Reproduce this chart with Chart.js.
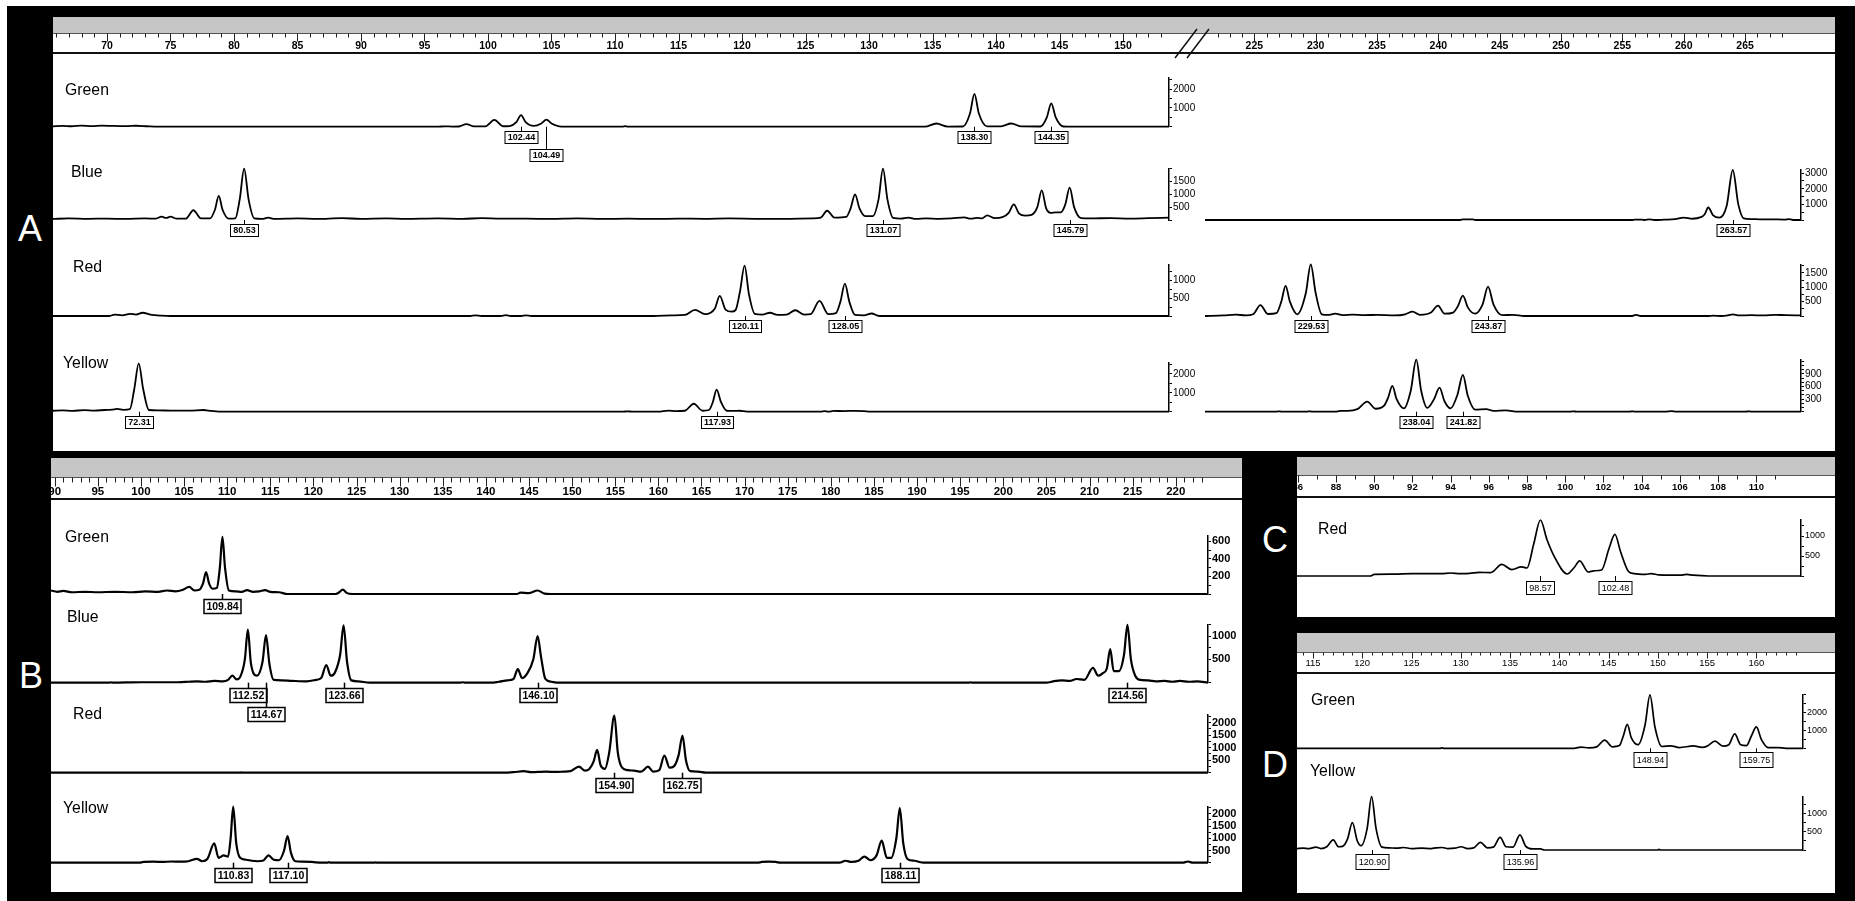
<!DOCTYPE html>
<html>
<head>
<meta charset="utf-8">
<title>Electropherograms A-D</title>
<script src="https://cdn.jsdelivr.net/npm/chart.js@4.4.1/dist/chart.umd.min.js"></script>
<style>
  html, body { margin: 0; padding: 0; background: #fff; }
  #fig { position: relative; width: 1855px; height: 901px; overflow: hidden; background: #fff; font-family: "Liberation Sans", Arial, sans-serif; }
  #fig div { position: absolute; }
  .black { left: 7px; top: 6px; right: 0; bottom: 0; background: #000; }
  .panel { background: #fff; }
  .grey { background: #c6c6c6; }
  .ruler { background: #fff; border-top: 1px solid #555; border-bottom: 2px solid #111; box-sizing: border-box; }
  .letter { color: #fff; font-size: 36px; line-height: 36px; transform: translate(-50%, -50%); }
</style>
</head>
<body>
<div id="fig">
  <div class="black"></div>

  <div class="panel" style="left:53px;top:17px;width:1782px;height:434px"></div>
  <div class="grey" style="left:53px;top:17px;width:1782px;height:16px"></div>
  <div class="ruler" style="left:53px;top:33px;width:1782px;height:21px"></div>

  <div class="panel" style="left:51px;top:458px;width:1191px;height:434px"></div>
  <div class="grey" style="left:51px;top:458px;width:1191px;height:19px"></div>
  <div class="ruler" style="left:51px;top:477px;width:1191px;height:23px"></div>

  <div class="panel" style="left:1297px;top:457px;width:538px;height:160px"></div>
  <div class="grey" style="left:1297px;top:457px;width:538px;height:18px"></div>
  <div class="ruler" style="left:1297px;top:475px;width:538px;height:23px"></div>

  <div class="panel" style="left:1297px;top:633px;width:538px;height:260px"></div>
  <div class="grey" style="left:1297px;top:633px;width:538px;height:19px"></div>
  <div class="ruler" style="left:1297px;top:652px;width:538px;height:22px"></div>

  <div class="letter" style="left:30px;top:229px">A</div>
  <div class="letter" style="left:31px;top:676px">B</div>
  <div class="letter" style="left:1275px;top:540px">C</div>
  <div class="letter" style="left:1275px;top:765px">D</div>
</div>

<script>

// ruler labels
const aRulerLeft = [70, 75, 80, 85, 90, 95, 100, 105, 110, 115, 120, 125, 130, 135, 140, 145, 150];
const aRulerRight = [225, 230, 235, 240, 245, 250, 255, 260, 265];
const bRuler = [90, 95, 100, 105, 110, 115, 120, 125, 130, 135, 140, 145, 150, 155, 160, 165, 170, 175, 180, 185, 190, 195, 200, 205, 210, 215, 220];
const cRuler = [86, 88, 90, 92, 94, 96, 98, 100, 102, 104, 106, 108, 110];
const dRuler = [115, 120, 125, 130, 135, 140, 145, 150, 155, 160];

// panel A, left part
const aGreenL = [[65.75,20],[66.5,45],[67.2,25],[68,55],[68.8,35],[69.6,60],[70.5,40],[71.5,30],[72.3,50],[73.1,25],[74,0],
  [96,0],[96.6,20],[97.2,5],[97.7,10],[98.3,140],[98.9,15],[99.8,20],[100.5,360],[101.2,25],[101.7,35],[102.25,260],[102.6,620],
  [102.95,260],[103.6,40],[104.2,170],[104.6,380],[105.0,170],[105.6,20],[106.5,0],[110.6,0],[110.8,30],[111,0],
  [134.4,0],[135.3,170],[136.2,5],[137.4,10],[137.95,700],[138.3,1750],[138.65,700],[139.3,15],[140.4,20],[141.2,170],[142,15],
  [143.5,10],[144.0,500],[144.35,1250],[144.7,500],[145.3,10],[146,0],[153.62,0]];
const aGreenLPeaks = [[102.6,'102.44',0],[104.6,'104.49',1],[138.3,'138.30',0],[144.35,'144.35',0]];
const aGreenLTicks = [1000, 2000];

const aBlueL = [[65.75,40],[67,60],[68.5,45],[70,55],[71.5,40],[73,60],[73.8,50],[74.3,130],[74.65,80],[75.0,130],[75.5,50],
  [76.2,50],[76.8,380],[77.4,60],[78.1,60],[78.5,400],[78.8,940],[79.1,400],[79.6,50],[80.1,60],[80.45,800],[80.8,2000],
  [81.15,800],[81.6,60],[82.2,40],[82.7,90],[83.2,40],[85,60],[86.5,40],[88.5,70],[90,45],[92,60],[93.5,40],[96,60],[98,45],
  [99.5,70],[101,50],[103,55],[105,40],[107,60],[109,45],[111,50],[113,40],[115,55],[117,45],[119,60],[121,45],[123,40],
  [124.5,55],[125.6,60],[126.2,90],[126.7,360],[127.3,90],[128.2,120],[128.55,450],[128.9,1000],[129.25,450],[129.7,150],
  [130.3,150],[130.75,800],[131.1,2000],[131.45,800],[131.9,80],[132.5,50],[133.1,90],[133.7,40],[134.5,60],[135.5,45],
  [136.5,60],[137.5,100],[138,50],[138.5,80],[138.9,60],[139.3,180],[139.9,70],[140.5,110],[141.0,280],[141.4,610],[141.8,260],
  [142.3,170],[142.8,200],[143.25,500],[143.6,1150],[143.95,450],[144.3,280],[144.7,300],[145.1,300],[145.45,600],[145.8,1260],
  [146.15,500],[146.7,70],[147.5,60],[149,75],[150.5,55],[152,70],[153.62,90]];
const aBlueLPeaks = [[80.8,'80.53',0],[131.1,'131.07',0],[145.8,'145.79',0]];
const aBlueLTicks = [500, 1000, 1500];

const aRedL = [[65.75,0],[70.2,0],[70.6,40],[71.2,20],[71.8,60],[72.3,40],[72.8,90],[73.4,40],[74.3,10],[75,0],[98.6,0],[99,20],
  [99.5,0],[101,0],[101.4,25],[101.8,0],[102.6,0],[103,20],[103.4,0],[113,0],[114.5,15],[115.5,30],[116.3,170],[117.1,50],
  [117.85,200],[118.25,560],[118.7,180],[119.2,120],[119.5,170],[119.85,700],[120.2,1400],[120.55,600],[121.0,60],[121.6,40],
  [122.2,90],[122.8,30],[123.5,40],[124.2,160],[124.9,40],[125.4,50],[126.1,420],[126.8,50],[127.4,80],[127.75,400],[128.1,900],
  [128.45,400],[128.9,30],[129.6,20],[130.2,70],[130.8,0],[153.62,0]];
const aRedLPeaks = [[120.2,'120.11',0],[128.1,'128.05',0]];
const aRedLTicks = [500, 1000];

const aYellowL = [[65.75,50],[66.5,70],[67.3,45],[68.2,80],[69,60],[69.8,90],[70.4,110],[70.8,150],[71.3,100],[71.8,130],
  [72.15,1200],[72.5,2550],[72.85,1200],[73.3,90],[74,70],[75,60],[76.5,55],[77.6,90],[78.2,40],[78.8,0],[110.6,0],[111,20],
  [111.4,0],[113.4,0],[114.2,60],[114.8,30],[115.5,50],[116.2,420],[116.9,50],[117.4,90],[117.7,500],[118.0,1170],[118.35,500],
  [118.8,50],[119.3,40],[119.8,50],[120.4,0],[126.2,0],[126.5,30],[126.8,0],[127.2,40],[128,35],[128.8,45],[129.6,30],
  [130.1,0],[153.62,0]];
const aYellowLPeaks = [[72.5,'72.31',0],[118.0,'117.93',0]];
const aYellowLTicks = [1000, 2000];

// panel A, right part
const aBlueR = [[220.98,0],[241.8,0],[242,40],[242.8,40],[243,0],[255.8,0],[256,30],[256.6,30],[256.8,0],[257.2,40],[257.6,0],
  [258.4,20],[259.3,50],[260.0,150],[260.7,80],[261.4,180],[261.7,350],[262.0,800],[262.4,300],[262.9,150],[263.5,900],
  [264.0,3200],[264.45,1000],[264.9,100],[265.5,60],[266.2,40],[267,40],[268.2,30],[268.6,60],[269,0],[269.56,0]];
const aBlueRPeaks = [[264.0,'263.57',0]];
const aBlueRTicks = [1000, 2000, 3000];

const aRedR = [[220.98,0],[222.5,20],[223.5,50],[224.3,20],[224.9,60],[225.5,380],[226.1,70],[226.8,100],[227.2,500],
  [227.55,1050],[227.9,500],[228.5,60],[229.2,800],[229.6,1800],[230.0,800],[230.5,60],[231.0,40],[231.6,80],[232.2,30],
  [233,50],[234,30],[235,40],[236.4,20],[237.3,60],[237.9,150],[238.5,40],[239.4,120],[239.97,360],[240.5,80],[241.2,120],
  [241.6,350],[242.0,710],[242.4,300],[243.0,80],[243.6,400],[244.05,1020],[244.5,400],[245.2,30],[246.1,40],[247,0],
  [255.8,0],[256.1,40],[256.5,0],[262,0],[262.4,10],[263,0],[263.6,20],[264,60],[264.5,20],[265.5,30],[266.5,20],[267.5,40],
  [268.3,30],[269.56,20]];
const aRedRPeaks = [[229.6,'229.53',0],[244.05,'243.87',0]];
const aRedRTicks = [500, 1000, 1500];

const aYellowR = [[220.98,0],[226.8,0],[227,10],[227.2,0],[229.3,0],[229.5,10],[229.7,0],[231.6,0],[232.0,20],[232.6,20],
  [233.4,60],[234.2,240],[234.9,70],[235.6,150],[235.9,330],[236.25,615],[236.6,300],[237.2,80],[237.75,500],[238.2,1240],
  [238.6,500],[239.1,90],[239.65,300],[240.1,575],[240.5,250],[241.0,80],[241.55,400],[242.0,880],[242.4,380],[243.0,50],
  [243.9,60],[244.5,20],[245.5,30],[246.5,0],[250.8,0],[251,10],[251.3,0],[255.5,0],[255.8,10],[256,0],[258.5,0],[259,15],
  [259.4,0],[265,0],[265.3,10],[265.5,0],[269.56,0]];
const aYellowRPeaks = [[238.2,'238.04',0],[242.0,'241.82',0]];
const aYellowRTicks = [300, 600, 900];

// panel B
const bGreen = [[89.57,40],[90.3,25],[91,35],[92,20],[93.5,25],[95,20],[97,25],[99,20],[100.5,30],[102,25],[103,40],[104,30],
  [104.8,45],[105.6,80],[106.2,40],[106.8,50],[107.2,120],[107.55,250],[107.9,120],[108.3,60],[108.8,70],[109.15,300],
  [109.45,650],[109.75,300],[110.2,40],[111,30],[111.7,25],[112.3,45],[113,25],[113.7,30],[114.4,45],[115,25],[116,20],
  [117,0],[122.6,0],[123,20],[123.4,50],[123.9,10],[124.5,0],[143.6,0],[144,15],[145,10],[146,40],[146.8,5],[147.5,0],
  [223.74,0]];
const bGreenPeaks = [[109.45,'109.84',0]];
const bGreenTicks = [200, 400, 600];

const bBlue = [[89.57,0],[96.3,0],[96.5,10],[96.7,0],[100,10],[104.3,10],[105.5,20],[106.5,30],[107.5,20],[108.5,40],
  [109.5,30],[110.1,60],[110.6,150],[111.1,70],[111.5,120],[112.05,500],[112.4,1140],[112.75,420],[113.45,150],[114.1,450],
  [114.5,1020],[114.9,400],[115.4,60],[116.3,50],[117.5,40],[119.2,30],[120.3,60],[120.9,100],[121.5,380],[122.0,150],
  [122.5,220],[123.1,600],[123.5,1230],[123.9,450],[124.4,50],[125.2,30],[126.5,0],[137,0],[137.3,10],[137.6,0],[140.6,0],
  [141.5,20],[142.5,50],[143.2,80],[143.7,290],[144.2,100],[144.8,200],[145.5,500],[146.0,1000],[146.4,550],[146.9,80],
  [147.6,20],[148.5,0],[196,0],[196.2,10],[196.4,0],[205,0],[205.8,30],[206.8,50],[207.7,40],[208.5,80],[209.4,60],
  [210.4,320],[211.0,150],[211.5,200],[212.0,300],[212.4,720],[212.8,250],[213.4,250],[214.0,600],[214.4,1240],[214.8,500],
  [215.3,150],[215.9,60],[216.8,50],[217.7,30],[218.7,40],[219.6,20],[220.5,40],[221.5,20],[222.5,30],[223.74,0]];
const bBluePeaks = [[112.4,'112.52',0],[114.5,'114.67',1],[123.5,'123.66',0],[146.0,'146.10',0],[214.4,'214.56',0]];
const bBlueTicks = [500, 1000];

const bRed = [[89.57,0],[111.5,0],[111.6,15],[111.7,0],[142,0],[143.2,20],[144.4,60],[145.2,20],[146,30],[147,40],[148,30],
  [149,40],[149.8,60],[150.8,240],[151.5,80],[152.0,150],[152.5,450],[152.9,910],[153.3,300],[153.8,150],[154.3,800],
  [154.9,2280],[155.3,800],[155.8,200],[156.5,100],[157.2,80],[158.0,40],[158.8,240],[159.4,40],[160.1,100],[160.7,680],
  [161.3,200],[161.8,250],[162.35,700],[162.8,1480],[163.2,500],[163.7,60],[164.6,40],[165.5,0],[223.74,0]];
const bRedPeaks = [[154.9,'154.90',0],[162.8,'162.75',0]];
const bRedTicks = [500, 1000, 1500, 2000];

const bYellow = [[89.57,0],[99.8,0],[100.3,30],[101.5,40],[102.5,30],[103.5,50],[104.5,40],[105.5,60],[106.5,160],[107.1,60],
  [107.7,150],[108.5,790],[109.0,200],[109.6,300],[110.1,250],[110.4,1000],[110.7,2300],[111.05,800],[111.5,200],[112.2,120],
  [112.85,80],[113.5,60],[114.2,90],[114.8,300],[115.4,120],[116.0,100],[116.6,500],[117.0,1090],[117.4,400],[117.9,60],
  [118.7,40],[119.8,30],[121,0],[121.6,0],[121.8,20],[122,0],[127,0],[127.2,10],[127.4,0],[171.5,0],[172,30],[172.8,40],
  [173.6,30],[174.2,0],[181.0,0],[181.7,80],[182.4,30],[183.2,80],[183.9,250],[184.6,100],[185.3,300],[185.9,900],[186.5,200],
  [187.0,200],[187.6,1000],[188.0,2230],[188.4,800],[188.9,150],[189.7,80],[190.4,20],[191,0],[220.8,0],[221.4,50],[222,0],
  [223.74,0]];
const bYellowPeaks = [[110.7,'110.83',0],[117.0,'117.10',0],[188.0,'188.11',0]];
const bYellowTicks = [500, 1000, 1500, 2000];

// panel C
const cRed = [[85.96,0],[89.8,0],[90.0,40],[91,45],[92,60],[93.5,60],[94.0,75],[94.5,60],[95.0,65],[95.5,90],[96.1,85],
  [96.68,290],[97.2,160],[97.7,230],[98.0,200],[98.35,800],[98.7,1400],[99.05,900],[99.5,420],[100.1,50],[100.45,200],
  [100.76,380],[101.2,100],[101.5,130],[101.9,150],[102.3,700],[102.6,1040],[102.9,600],[103.3,120],[103.6,60],[104.2,40],
  [104.5,60],[104.9,30],[106,20],[106.35,40],[106.7,20],[107.5,0],[112.34,0]];
const cRedPeaks = [[98.7,'98.57',0],[102.6,'102.48',0]];
const cRedTicks = [500, 1000];

// panel D
const dGreen = [[113.38,0],[127.9,0],[128.1,20],[128.3,0],[141.5,0],[142.2,70],[143,20],[143.8,80],[144.6,460],[145.4,80],
  [146.1,150],[146.5,700],[146.9,1330],[147.3,600],[148.0,200],[148.7,1300],[149.2,2980],[149.7,1200],[150.4,100],[151.3,140],
  [152.2,40],[153.6,130],[154.5,50],[155.0,120],[155.8,400],[156.6,120],[157.2,200],[157.8,800],[158.4,200],[159.0,150],
  [159.5,700],[160.0,1190],[160.5,500],[161.2,40],[162.2,40],[163,0],[164.73,0]];
const dGreenPeaks = [[149.2,'148.94',0],[160.0,'159.75',0]];
const dGreenTicks = [1000, 2000];

const dYellow = [[113.38,40],[114,50],[114.6,40],[115.3,80],[115.8,40],[116.4,90],[117.06,280],[117.6,90],[118.0,100],
  [118.5,300],[119.0,760],[119.5,250],[119.9,120],[120.5,600],[120.95,1480],[121.4,600],[122.0,80],[122.7,60],[123.5,50],
  [124.2,70],[125,40],[126,50],[127,40],[127.5,60],[128.1,70],[128.7,40],[129.4,50],[130.06,90],[130.7,40],[131.3,60],
  [132.0,210],[132.7,60],[133.3,80],[134.0,350],[134.6,90],[135.3,80],[136.0,420],[136.6,100],[137.3,30],[138.1,30],
  [138.5,0],[150,0],[150.1,20],[150.3,0],[164.73,0]];
const dYellowPeaks = [[120.95,'120.90',0],[136.0,'135.96',0]];
const dYellowTicks = [500, 1000];

// ---------- drawing ----------
const FONT = '"Liberation Sans", Arial, Helvetica, sans-serif';
Chart.defaults.font.family = FONT;
Chart.defaults.color = '#000';

const fig = document.getElementById('fig');
const AXIS_W = 46;

const styleA = { lw: 1.8, boxFont: 'bold 9px', boxH: 12, box1: 4, box2: 22, boxLw: 1, yFont: { size: 10 } };
const styleB = { lw: 2.2, boxFont: 'bold 10.5px', boxH: 14, box1: 5, box2: 24, boxLw: 1.5, yFont: { size: 11, weight: 'bold' } };
const styleC = { lw: 1.7, boxFont: '9px', boxH: 13, box1: 4.5, box2: 22, boxLw: 1, yFont: { size: 9 } };
const styleD = { lw: 1.7, boxFont: '9px', boxH: 15, box1: 3.5, box2: 22, boxLw: 1, yFont: { size: 9 } };

const segments = [
  { left: 53, right: 1169, xMin: 65.75, xMax: 153.62, st: styleA, labels: aRulerLeft,
    ruler: { y: 33.5, from: 66, to: 153, majorLen: 8, minorLen: 4, labelY: 46.5, font: 'bold 10.5px', breakMark: true },
    rows: [
      { name: 'Green', nameAt: [65, 90], top: 78, base: 126.7, points: aGreenL, peaks: aGreenLPeaks, yMax: 2600, yStep: 500, yLabels: aGreenLTicks },
      { name: 'Blue', nameAt: [71, 172], top: 168.6, base: 220, points: aBlueL, peaks: aBlueLPeaks, yMax: 2000, yStep: 500, yLabels: aBlueLTicks },
      { name: 'Red', nameAt: [73, 267], top: 265, base: 316, points: aRedL, peaks: aRedLPeaks, yMax: 1420, yStep: 250, yLabels: aRedLTicks },
      { name: 'Yellow', nameAt: [63, 363], top: 362.5, base: 411.7, points: aYellowL, peaks: aYellowLPeaks, yMax: 2600, yStep: 500, yLabels: aYellowLTicks }
    ] },
  { left: 1205, right: 1801, xMin: 220.98, xMax: 269.56, st: styleA, labels: aRulerRight,
    ruler: { y: 33.5, from: 222, to: 268, majorLen: 8, minorLen: 4, labelY: 46.5, font: 'bold 10.5px' },
    rows: [
      { top: 170, base: 220, points: aBlueR, peaks: aBlueRPeaks, yMax: 3200, yStep: 500, yLabels: aBlueRTicks },
      { top: 264.3, base: 316, points: aRedR, peaks: aRedRPeaks, yMax: 1800, yStep: 250, yLabels: aRedRTicks },
      { top: 359.3, base: 411.7, points: aYellowR, peaks: aYellowRPeaks, yMax: 1250, yStep: 100, yLabels: aYellowRTicks }
    ] },
  { left: 51, right: 1207.5, xMin: 89.57, xMax: 223.74, st: styleB, labels: bRuler,
    ruler: { y: 477.5, from: 90, to: 223, majorLen: 9, minorLen: 5, labelY: 492, font: 'bold 11.5px' },
    rows: [
      { name: 'Green', nameAt: [65, 537], top: 536, base: 594, points: bGreen, peaks: bGreenPeaks, yMax: 660, yStep: 100, yLabels: bGreenTicks },
      { name: 'Blue', nameAt: [67, 617], top: 624.5, base: 682.7, points: bBlue, peaks: bBluePeaks, yMax: 1250, yStep: 250, yLabels: bBlueTicks },
      { name: 'Red', nameAt: [73, 714], top: 715, base: 772.7, points: bRed, peaks: bRedPeaks, yMax: 2300, yStep: 250, yLabels: bRedTicks },
      { name: 'Yellow', nameAt: [63, 808], top: 806.5, base: 862.7, points: bYellow, peaks: bYellowPeaks, yMax: 2300, yStep: 250, yLabels: bYellowTicks }
    ] },
  { left: 1297, right: 1801.4, xMin: 85.96, xMax: 112.34, st: styleC, labels: cRuler,
    ruler: { y: 475.5, from: 86, to: 111, majorLen: 7, minorLen: 4, labelY: 487, font: 'bold 9.5px' },
    rows: [
      { name: 'Red', nameAt: [1318, 529], top: 520, base: 576, points: cRed, peaks: cRedPeaks, yMax: 1400, yStep: 250, yLabels: cRedTicks }
    ] },
  { left: 1297, right: 1803.3, xMin: 113.38, xMax: 164.73, st: styleD, labels: dRuler,
    ruler: { y: 652.5, from: 114, to: 164, majorLen: 6, minorLen: 3, labelY: 663.5, font: '9.5px' },
    rows: [
      { name: 'Green', nameAt: [1311, 700], top: 694.5, base: 748.3, points: dGreen, peaks: dGreenPeaks, yMax: 3000, yStep: 500, yLabels: dGreenTicks },
      { name: 'Yellow', nameAt: [1310, 771.5], top: 796.7, base: 850, points: dYellow, peaks: dYellowPeaks, yMax: 1480, yStep: 250, yLabels: dYellowTicks }
    ] }
];

const addCanvas = (left, top, width, height) => {
  const c = document.createElement('canvas');
  c.width = width;
  c.height = height;
  Object.assign(c.style, { position: 'absolute', left: left + 'px', top: top + 'px', width: width + 'px', height: height + 'px' });
  fig.appendChild(c);
  return c;
};

const drawMarks = (chart, row, st, cLeft, cTop) => {
  const { ctx, scales: { x, y } } = chart;
  const base = y.getPixelForValue(0);
  ctx.save();
  if (row.name) {
    ctx.font = '17px ' + FONT;
    ctx.fillStyle = '#000';
    ctx.textBaseline = 'middle';
    ctx.translate(row.nameAt[0] - cLeft, row.nameAt[1] - cTop);
    ctx.scale(0.93, 1);
    ctx.fillText(row.name, 0, 0);
    ctx.setTransform(1, 0, 0, 1, 0, 0);
  }
  ctx.font = st.boxFont + ' ' + FONT;
  ctx.textAlign = 'center';
  ctx.textBaseline = 'middle';
  ctx.strokeStyle = '#000';
  ctx.lineWidth = st.boxLw;
  row.peaks.forEach(([v, text, level]) => {
    const px = Math.round(x.getPixelForValue(v)) + 0.5;
    const top = Math.round(base + (level ? st.box2 : st.box1)) + 0.5;
    const w = Math.round(ctx.measureText(text).width + 5);
    ctx.beginPath();
    ctx.moveTo(px, base);
    ctx.lineTo(px, top);
    ctx.stroke();
    ctx.fillStyle = '#fff';
    ctx.fillRect(px - w / 2, top, w, st.boxH);
    ctx.strokeRect(px - w / 2, top, w, st.boxH);
    ctx.fillStyle = '#000';
    ctx.fillText(text, px, top + st.boxH / 2 + 0.5);
  });
  ctx.restore();
};

const traceChart = (seg, row) => {
  const st = seg.st;
  const cLeft = Math.round(seg.left);
  const cTop = Math.round(Math.min(row.top, row.nameAt ? row.nameAt[1] : row.top) - 16);
  const cBottom = Math.round(row.base + 44);
  const width = Math.round(seg.right - cLeft) + AXIS_W;
  const canvas = addCanvas(cLeft, cTop, width, cBottom - cTop);
  new Chart(canvas, {
    type: 'line',
    data: {
      datasets: [{
        data: row.points.map(([x, y]) => ({ x, y })),
        borderColor: '#000',
        borderWidth: st.lw,
        pointRadius: 0,
        cubicInterpolationMode: 'monotone',
        borderJoinStyle: 'round',
        fill: false,
        clip: false
      }]
    },
    options: {
      responsive: false,
      animation: false,
      devicePixelRatio: 1,
      events: [],
      layout: { padding: { left: 0, right: 0, top: row.top - cTop, bottom: cBottom - row.base } },
      plugins: { legend: { display: false }, tooltip: { enabled: false } },
      scales: {
        x: { type: 'linear', min: seg.xMin, max: seg.xMax, display: false },
        y: {
          type: 'linear',
          position: 'right',
          min: 0,
          max: row.yMax,
          afterFit: s => { s.width = AXIS_W; },
          // one tick every yStep from the baseline up to the top of the axis
          afterBuildTicks: s => {
            const t = [];
            for (let v = 0; v <= row.yMax; v += row.yStep) t.push({ value: v });
            s.ticks = t;
          },
          border: { display: true, color: '#000', width: 1.5 },
          grid: { drawOnChartArea: false, drawTicks: true, tickLength: 3, color: '#000', lineWidth: 1 },
          ticks: {
            autoSkip: false,
            padding: 1,
            color: '#000',
            font: st.yFont,
            callback: v => row.yLabels.includes(v) ? String(v) : ''
          }
        }
      }
    },
    plugins: [{ id: 'marks', afterDatasetsDraw: chart => drawMarks(chart, row, st, cLeft, cTop) }]
  });
};

const drawRuler = (chart, r, labels, cTop) => {
  const { ctx, scales: { x } } = chart;
  const y0 = r.y - cTop;
  ctx.save();
  ctx.strokeStyle = '#222';
  ctx.lineWidth = 1;
  for (let v = r.from; v <= r.to; v++) {
    const px = Math.round(x.getPixelForValue(v)) + 0.5;
    const len = labels.includes(v) ? r.majorLen : r.minorLen;
    ctx.beginPath();
    ctx.moveTo(px, y0);
    ctx.lineTo(px, y0 + len);
    ctx.stroke();
  }
  ctx.fillStyle = '#000';
  ctx.font = r.font + ' ' + FONT;
  ctx.textAlign = 'center';
  ctx.textBaseline = 'middle';
  labels.forEach(v => ctx.fillText(String(v), x.getPixelForValue(v), r.labelY - cTop));
  if (r.breakMark) {
    // the "//" cut between the two parts of panel A
    ctx.lineWidth = 1.5;
    ctx.strokeStyle = '#111';
    [6, 18].forEach(dx => {
      ctx.beginPath();
      ctx.moveTo(x.right + dx, 58 - cTop);
      ctx.lineTo(x.right + dx + 22, 29 - cTop);
      ctx.stroke();
    });
  }
  ctx.restore();
};

const rulerChart = (seg) => {
  const r = seg.ruler;
  const cLeft = Math.round(seg.left);
  const cTop = Math.round(r.y - 8);
  const areaW = Math.round(seg.right - cLeft);
  const canvas = addCanvas(cLeft, cTop, areaW + 50, 38);
  new Chart(canvas, {
    type: 'line',
    data: { datasets: [] },
    options: {
      responsive: false,
      animation: false,
      devicePixelRatio: 1,
      events: [],
      layout: { padding: { left: 0, right: 50, top: 0, bottom: 0 } },
      plugins: { legend: { display: false }, tooltip: { enabled: false } },
      scales: {
        x: { type: 'linear', min: seg.xMin, max: seg.xMax, display: false },
        y: { display: false }
      }
    },
    plugins: [{ id: 'ruler', afterDraw: chart => drawRuler(chart, r, seg.labels, cTop) }]
  });
};

segments.forEach(seg => {
  rulerChart(seg);
  seg.rows.forEach(row => traceChart(seg, row));
});
</script>
</body>
</html>
